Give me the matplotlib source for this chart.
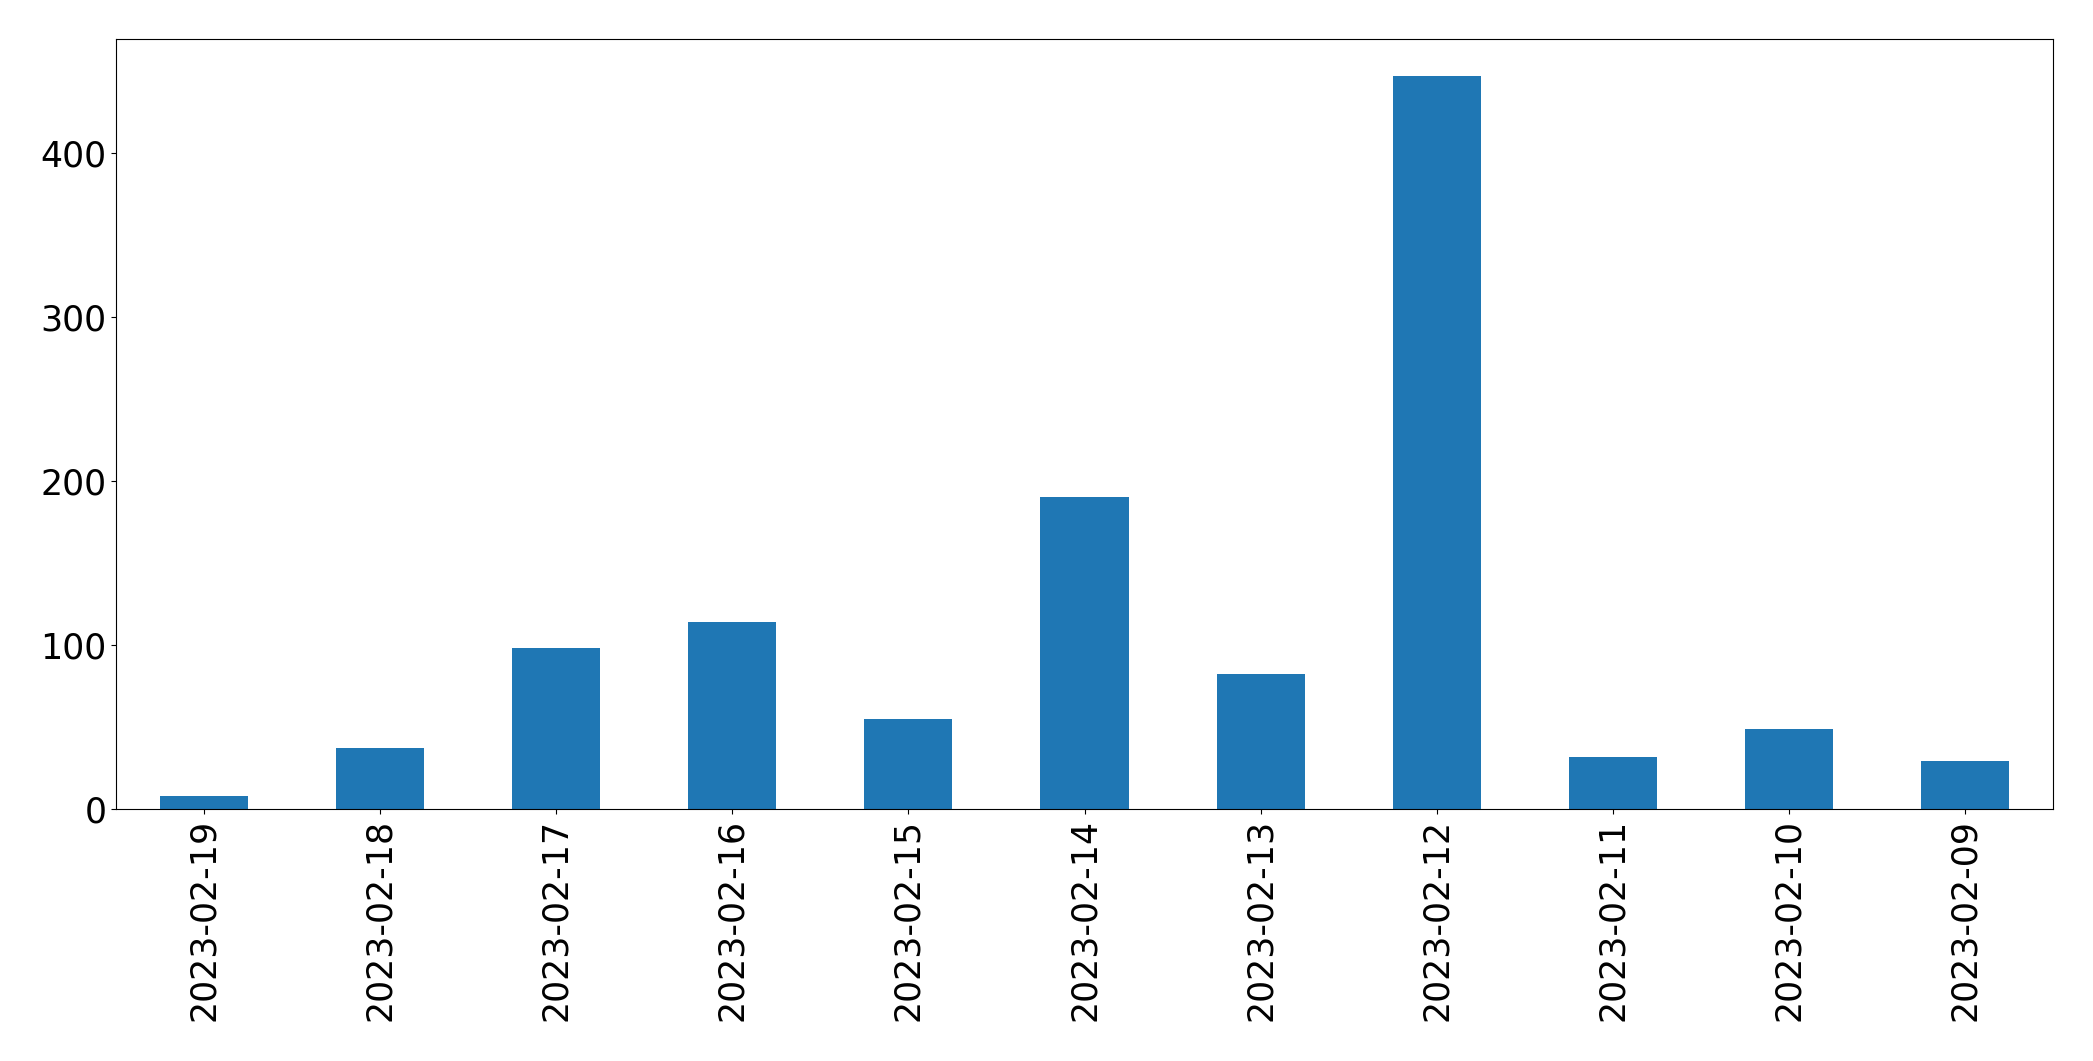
import matplotlib
matplotlib.use("Agg")
import matplotlib.pyplot as plt
import pandas as pd

dates = ['2023-02-19', '2023-02-18', '2023-02-17', '2023-02-16', '2023-02-15',
         '2023-02-14', '2023-02-13', '2023-02-12', '2023-02-11', '2023-02-10',
         '2023-02-09']
counts = [8, 37, 98, 114, 55, 190, 82, 447, 32, 49, 29]

s = pd.Series(counts, index=dates)

fig, ax = plt.subplots(figsize=(20.93, 10.61), dpi=100)
s.plot.bar(ax=ax, color='#1f77b4')
ax.tick_params(axis='both', labelsize=25)
fig.subplots_adjust(left=116/2093, right=2053/2093, top=1-39/1061, bottom=1-809/1061)

fig.savefig('out.png', dpi=100)
